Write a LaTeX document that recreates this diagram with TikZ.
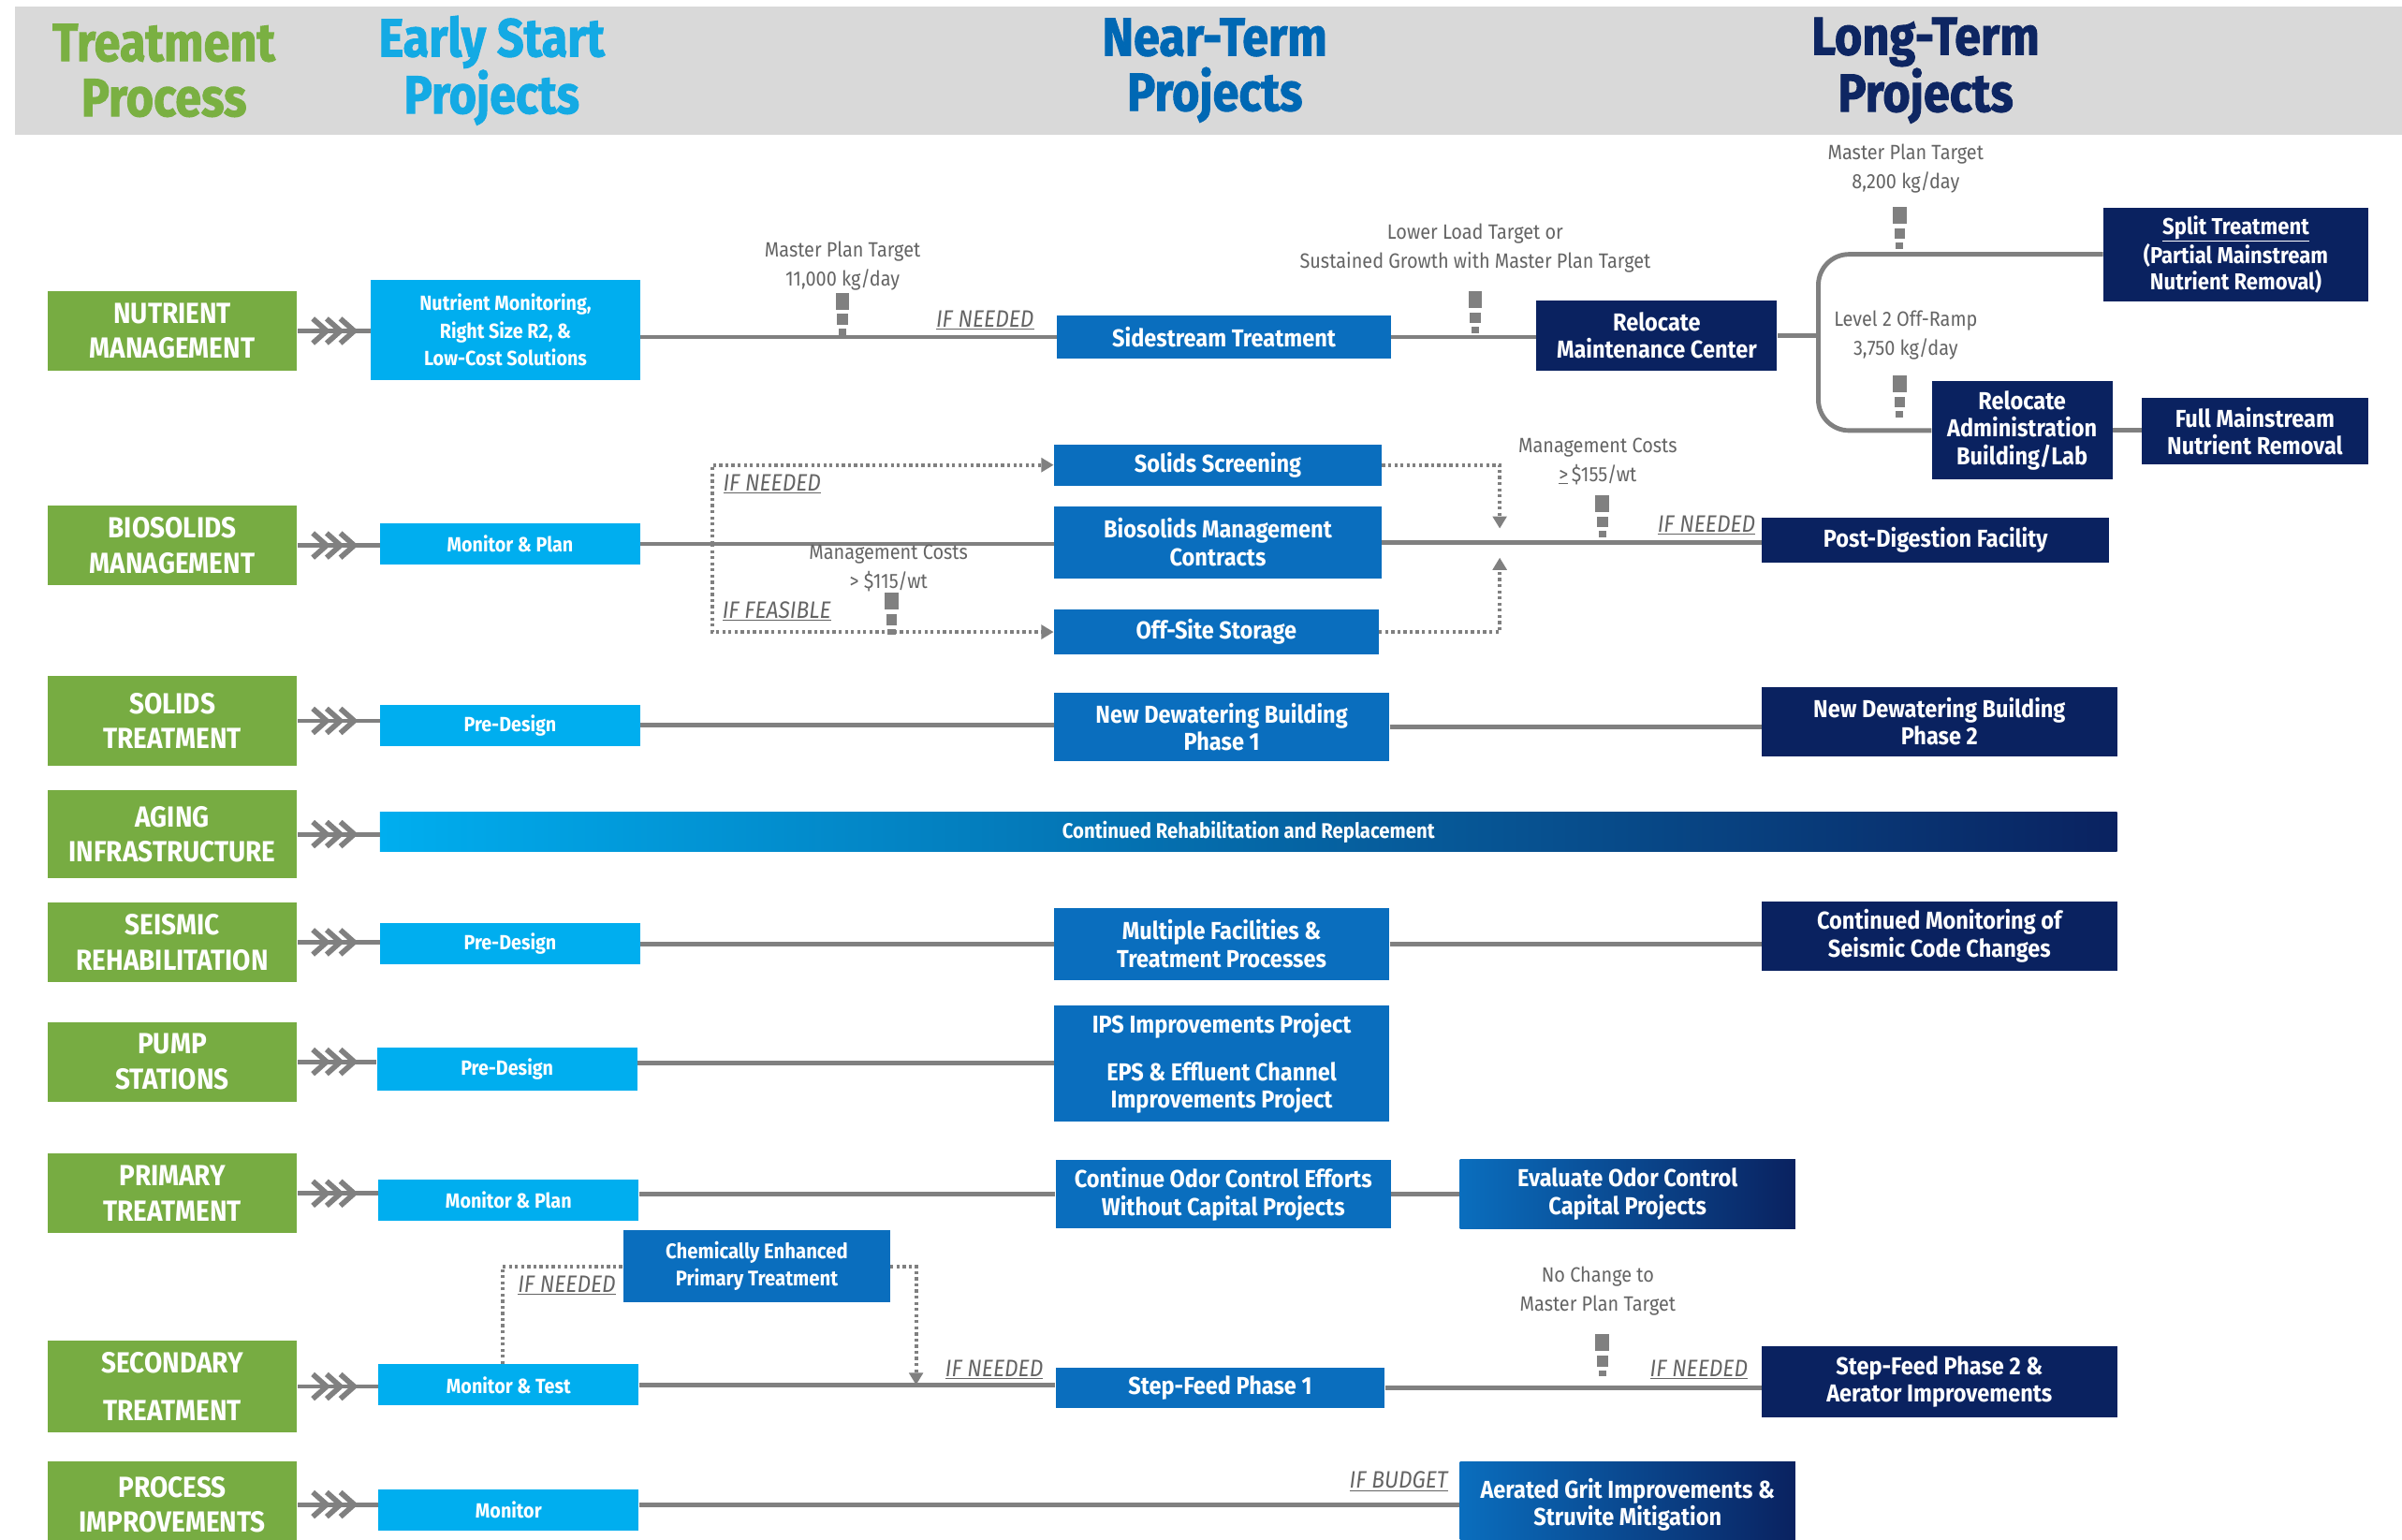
\documentclass[tikz,border=0pt]{standalone}
\usepackage{fontspec}
\setmainfont{Fira Sans}[FakeStretch=0.9]
\newfontfamily\headfont{Fira Sans}[FakeStretch=0.88, BoldFeatures={FakeBold=1.6}]
\usetikzlibrary{arrows.meta}

\definecolor{procgreen}{RGB}{119,172,66}
\definecolor{earlyblue}{RGB}{0,174,239}
\definecolor{nearblue}{RGB}{10,110,190}
\definecolor{longnavy}{RGB}{10,34,96}
\definecolor{bandgray}{RGB}{217,217,217}
\definecolor{linegray}{RGB}{128,128,128}
\definecolor{labelgray}{RGB}{100,100,100}
\definecolor{hdgreen}{RGB}{122,176,66}
\definecolor{hdlblue}{RGB}{20,170,228}
\definecolor{hdblue}{RGB}{0,104,180}
\definecolor{hdnavy}{RGB}{14,38,98}

\tikzset{
  procbox/.style={fill=procgreen, text=white, align=center, inner sep=0pt,
    minimum width=163pt, font=\fontsize{19}{23}\selectfont\bfseries},
  earlybox/.style={fill=earlyblue, text=white, align=center, inner sep=0pt,
    minimum width=170pt, minimum height=27pt, font=\fontsize{13.4}{18}\selectfont\bfseries},
  nearbox/.style={fill=nearblue, text=white, align=center, inner sep=0pt,
    font=\fontsize{16}{18}\selectfont\bfseries},
  longbox/.style={fill=longnavy, text=white, align=center, inner sep=0pt,
    font=\fontsize{16}{18}\selectfont\bfseries},
  fadebox/.style={left color=nearblue, right color=longnavy, text=white, align=center,
    inner sep=0pt, font=\fontsize{16}{18}\selectfont\bfseries},
  head/.style={align=center, font=\fontsize{35}{36}\headfont\bfseries},
  note/.style={text=labelgray, align=center, font=\fontsize{13.5}{19}\selectfont},
  cond/.style={text=labelgray, font=\fontsize{15.5}{17}\selectfont\itshape},
  conn/.style={draw=linegray, line width=3pt},
  dotline/.style={draw=linegray, line width=2.5pt, dash pattern=on 2pt off 2pt},
  >={Triangle[length=8pt,width=9pt]},
  fletch/.pic={
    \draw[linegray, line width=3.5pt] (10,-8) -- (19,0) -- (10,8);
    \draw[linegray, line width=3.5pt] (19,-8) -- (28,0) -- (19,8);
    \draw[linegray, line width=3.5pt] (28,-8) -- (37,0) -- (28,8);
  },
  gate/.pic={
    \fill[linegray] (-4.5,0) rectangle (4.5,11);
    \fill[linegray] (-3.5,14) rectangle (3.5,21);
    \fill[linegray] (-2.5,23.5) rectangle (2.5,27.5);
  }
}

\begin{document}
\begin{tikzpicture}[x=1pt, y=-1pt]
\useasboundingbox (0,0) rectangle (1568,1005);

% column headings
\fill[bandgray] (10,4) rectangle (1568,88);
\node[head, text=hdgreen] (hProc) at (107,46) {Treatment\\Process};
\node[head, text=hdlblue] (hEarly) at (321,46) {Early Start\\Projects};
\node[head, text=hdblue] (hNear) at (793,46) {Near-Term\\Projects};
\node[head, text=hdnavy] (hLong) at (1257,46) {Long-Term\\Projects};

% treatment processes
\node[procbox, minimum height=52pt] (gNut) at (112.5,216) {NUTRIENT\\MANAGEMENT};
\node[procbox, minimum height=52pt] (gBio) at (112.5,356) {BIOSOLIDS\\MANAGEMENT};
\node[procbox, minimum height=59pt] (gSol) at (112.5,470.5) {SOLIDS\\TREATMENT};
\node[procbox, minimum height=57pt] (gAge) at (112.5,544.5) {AGING\\INFRASTRUCTURE};
\node[procbox, minimum height=52pt] (gSei) at (112.5,615) {SEISMIC\\REHABILITATION};
\node[procbox, minimum height=52pt] (gPum) at (112.5,693) {PUMP\\STATIONS};
\node[procbox, minimum height=52pt] (gPri) at (112.5,779) {PRIMARY\\TREATMENT};
\node[procbox, minimum height=60pt] (gSec) at (112.5,905) {SECONDARY\\[8pt]TREATMENT};
\node[procbox, minimum height=56pt] (gPro) at (112.5,982) {PROCESS\\IMPROVEMENTS};

% early start projects
\node[earlybox, minimum width=176pt, minimum height=65pt] (eNut) at (330,215.5)
  {Nutrient Monitoring,\\Right Size R2, \&\\Low-Cost Solutions};
\node[earlybox] (eBio) at (333,355) {Monitor \& Plan};
\node[earlybox] (eSol) at (333,473.5) {Pre-Design};
\node[earlybox] (eSei) at (333,616) {Pre-Design};
\node[earlybox, minimum height=28pt] (ePum) at (331,698) {Pre-Design};
\node[earlybox] (ePri) at (332,783.5) {Monitor \& Plan};
\node[earlybox] (eSec) at (332,904) {Monitor \& Test};
\node[earlybox] (ePro) at (332,985.5) {Monitor};

% near-term projects
\node[nearbox, minimum width=218pt, minimum height=28pt] (nSide) at (799,220) {Sidestream Treatment};
\node[nearbox, minimum width=214pt, minimum height=27pt] (nScr) at (795,303.5) {Solids Screening};
\node[nearbox, minimum width=214pt, minimum height=47pt] (nCon) at (795,354) {Biosolids Management\\Contracts};
\node[nearbox, minimum width=212pt, minimum height=29pt] (nOff) at (794,412.5) {Off-Site Storage};
\node[nearbox, minimum width=219pt, minimum height=45pt] (nDew) at (797.5,474.5) {New Dewatering Building\\Phase 1};
\node[nearbox, minimum width=219pt, minimum height=47pt] (nMul) at (797.5,616) {Multiple Facilities \&\\Treatment Processes};
\node[nearbox, minimum width=219pt, minimum height=76pt] (nIPS) at (797.5,694)
  {IPS Improvements Project\\[13pt]EPS \& Effluent Channel\\Improvements Project};
\node[nearbox, minimum width=219pt, minimum height=45pt] (nOdor) at (798.5,779.5)
  {Continue Odor Control Efforts\\Without Capital Projects};
\node[nearbox, minimum width=174pt, minimum height=47pt, font=\fontsize{13.8}{18}\selectfont\bfseries]
  (nCEPT) at (494,826.5) {Chemically Enhanced\\Primary Treatment};
\node[nearbox, minimum width=215pt, minimum height=26pt] (nStep) at (796.5,906) {Step-Feed Phase 1};

% long-term projects
\node[longbox, minimum width=157pt, minimum height=46pt] (lMaint) at (1081.5,219) {Relocate\\Maintenance Center};
\node[longbox, minimum width=173pt, minimum height=61pt, font=\fontsize{15}{17}\selectfont\bfseries]
  (lSplit) at (1459.5,166) {\underline{Split Treatment}\\(Partial Mainstream\\Nutrient Removal)};
\node[longbox, minimum width=118pt, minimum height=64pt] (lAdmin) at (1320,281) {Relocate\\Administration\\Building/Lab};
\node[longbox, minimum width=148pt, minimum height=43pt] (lFull) at (1472,281.5) {Full Mainstream\\Nutrient Removal};
\node[longbox, minimum width=227pt, minimum height=29pt] (lPost) at (1263.5,352.5) {Post-Digestion Facility};
\node[longbox, minimum width=232pt, minimum height=45pt] (lDew) at (1266,471) {New Dewatering Building\\Phase 2};
\node[longbox, minimum width=232pt, minimum height=45pt] (lSei) at (1266,611) {Continued Monitoring of\\Seismic Code Changes};
\node[fadebox, minimum width=219pt, minimum height=45pt] (lOdor) at (1062.5,779.5) {Evaluate Odor Control\\Capital Projects};
\node[longbox, minimum width=232pt, minimum height=46pt] (lStep) at (1266,902) {Step-Feed Phase 2 \&\\Aerator Improvements};
\node[fadebox, minimum width=219pt, minimum height=56pt] (lGrit) at (1062.5,982) {Aerated Grit Improvements \&\\Struvite Mitigation};

% rehabilitation bar
\node[left color=earlyblue, middle color=nearblue, right color=longnavy, text=white,
  minimum width=1134pt, minimum height=26pt, inner sep=0pt,
  font=\fontsize{13.8}{14}\selectfont\bfseries] (aBar) at (815,543) {Continued Rehabilitation and Replacement};

% process to early start
\draw[conn] (gNut.east) -- (gNut.east -| eNut.west);
\draw[conn] (gBio.east) -- (gBio.east -| eBio.west);
\draw[conn] (gSol.east) -- (gSol.east -| eSol.west);
\draw[conn] (gAge.east) -- (gAge.east -| aBar.west);
\draw[conn] (gSei.east) -- (gSei.east -| eSei.west);
\draw[conn] (gPum.east) -- (gPum.east -| ePum.west);
\draw[conn] (gPri.east) -- (gPri.east -| ePri.west);
\draw[conn] (gSec.east) -- (gSec.east -| eSec.west);
\draw[conn] (gPro.east) -- (gPro.east -| ePro.west);
\pic at (gNut.east) {fletch};
\pic at (gBio.east) {fletch};
\pic at (gSol.east) {fletch};
\pic at (gAge.east) {fletch};
\pic at (gSei.east) {fletch};
\pic at (gPum.east) {fletch};
\pic at (gPri.east) {fletch};
\pic at (gSec.east) {fletch};
\pic at (gPro.east) {fletch};

% nutrient management
\coordinate (jn) at (1187,220);
\draw[conn] (nSide.west -| eNut.east) -- (nSide.west);
\draw[conn] (nSide.east) -- (nSide.east -| lMaint.west);
\draw[conn] (lMaint.east) -- (lMaint.east -| jn);
\draw[conn, rounded corners=20pt] (lSplit.west) -| (jn) |- (lAdmin.west);
\draw[conn] (lAdmin.east) -- (lAdmin.east -| lFull.west);
\node[note] (tNut1) at (550,173.5) {Master Plan Target\\11,000 kg/day};
\node[note] (tNut2) at (963,162) {Lower Load Target or\\Sustained Growth with Master Plan Target};
\node[note] (tNut3) at (1244,110) {Master Plan Target\\8,200 kg/day};
\node[note] (tNut4) at (1244,219) {Level 2 Off-Ramp\\3,750 kg/day};
\node[cond] (cNut) at (643,209) {\underline{IF NEEDED}};
\pic at (550,191) {gate};
\pic at (963,190) {gate};
\pic at (1240,135) {gate};
\pic at (1240,245) {gate};

% biosolids management
\coordinate (bv) at (465,355);
\coordinate (bvTop) at (979,345);
\coordinate (bvBot) at (979,364);
\draw[conn] (eBio.east) -- (eBio.east -| nCon.west);
\draw[conn] (nCon.east) -- (nCon.east -| lPost.west);
\draw[dotline, ->] (bv) |- (nScr.west);
\draw[dotline, ->] (bv) |- (nOff.west);
\draw[dotline, ->] (nScr.east) -| (bvTop);
\draw[dotline, ->] (nOff.east) -| (bvBot);
\node[cond] (cBio1) at (504,316) {\underline{IF NEEDED}};
\node[cond] (cBio2) at (507,399) {\underline{IF FEASIBLE}};
\node[cond] (cBio3) at (1114,343) {\underline{IF NEEDED}};
\node[note] (tBio1) at (580,371) {Management Costs\\> \$115/wt};
\node[note] (tBio2) at (1043,301) {Management Costs\\\underline{>}\,\$155/wt};
\pic at (582,387) {gate};
\pic at (1046,323) {gate};

% solids, seismic, pumps, primary
\draw[conn] (eSol.east) -- (eSol.east -| nDew.west);
\draw[conn] (nDew.east) -- (nDew.east -| lDew.west);
\draw[conn] (eSei.east) -- (eSei.east -| nMul.west);
\draw[conn] (nMul.east) -- (nMul.east -| lSei.west);
\draw[conn] (nIPS.west -| ePum.east) -- (nIPS.west);
\draw[conn] (nOdor.west -| ePri.east) -- (nOdor.west);
\draw[conn] (nOdor.east) -- (nOdor.east -| lOdor.west);

% secondary treatment
\coordinate (cepDrop) at (598,904);
\draw[conn] (eSec.east) -- (eSec.east -| nStep.west);
\draw[conn] (nStep.east) -- (nStep.east -| lStep.west);
\draw[dotline] ([xshift=-4pt]eSec.north) |- (nCEPT.west);
\draw[dotline, ->] (nCEPT.east) -| (cepDrop);
\node[cond] (cSec1) at (370,839) {\underline{IF NEEDED}};
\node[cond] (cSec2) at (649,894) {\underline{IF NEEDED}};
\node[cond] (cSec3) at (1109,894) {\underline{IF NEEDED}};
\node[note] (tSec) at (1043,842.5) {No Change to\\Master Plan Target};
\pic at (1046,871) {gate};

% process improvements
\draw[conn] (lGrit.west -| ePro.east) -- (lGrit.west);
\node[cond] (cPro) at (913,967) {\underline{IF BUDGET}};
\end{tikzpicture}
\end{document}
